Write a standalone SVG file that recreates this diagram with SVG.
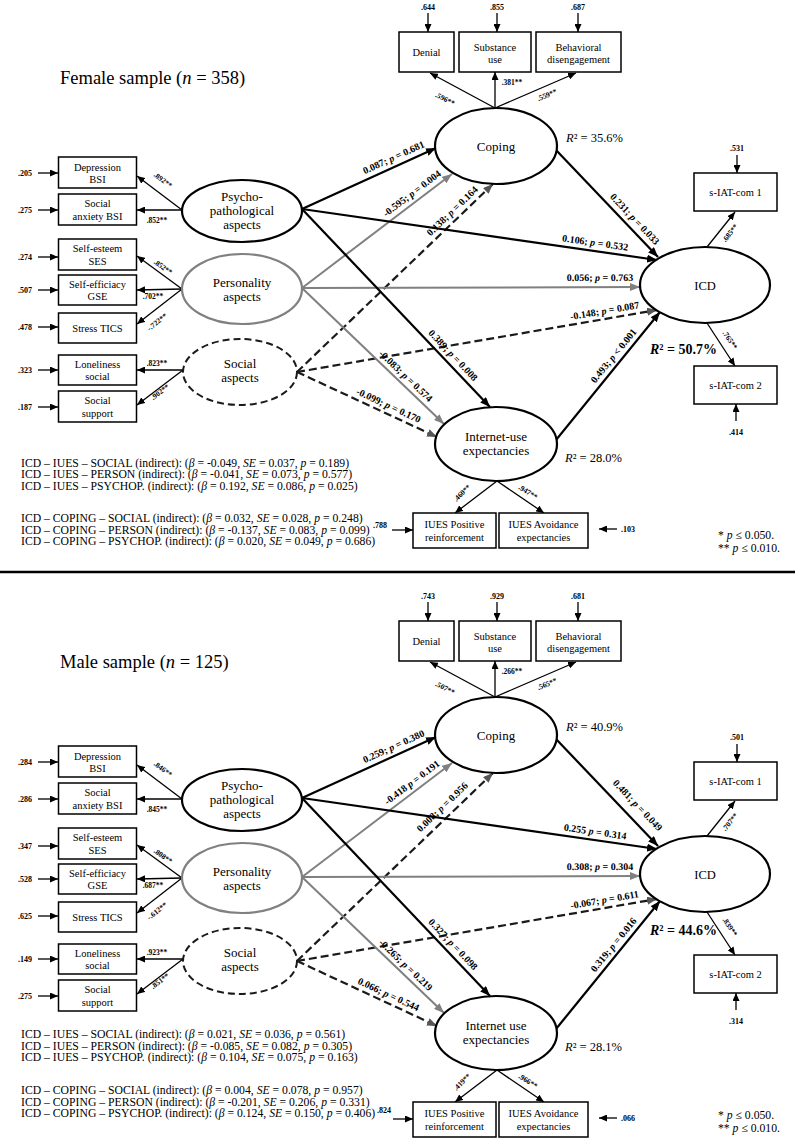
<svg xmlns="http://www.w3.org/2000/svg" width="795" height="1140" viewBox="0 0 795 1140">
<defs>
<style>
text{font-family:"Liberation Serif","Times New Roman",serif;fill:#000}
.ttl{font-size:18.5px}
.lat{font-size:13px;text-anchor:middle}
.bx{font-size:10.5px;text-anchor:middle}
.er{font-size:8px;font-weight:bold;text-anchor:middle}
.lo{font-size:7.5px;font-weight:bold;text-anchor:middle}
.pl{font-size:10px;font-weight:bold;text-anchor:middle}
.r2{font-size:12.5px}
.r2b{font-size:14px;font-weight:bold}
.ind{font-size:11.7px}
.fn{font-size:11.7px}
.i{font-style:italic}
.pb{stroke:#000;stroke-width:2.2;fill:none;marker-end:url(#ah)}
.pg{stroke:#808080;stroke-width:2;fill:none;marker-end:url(#ahg)}
.pd{stroke:#1a1a1a;stroke-width:2.2;fill:none;stroke-dasharray:8 4;marker-end:url(#ahd)}
.ld{stroke:#000;stroke-width:1.3;fill:none;marker-end:url(#as)}
.box{fill:#fff;stroke:#000;stroke-width:1.5}
.el{fill:#fff;stroke:#000;stroke-width:2.2}
.elg{fill:#fff;stroke:#808080;stroke-width:2.2}
.eld{fill:#fff;stroke:#1a1a1a;stroke-width:2;stroke-dasharray:7 4}
</style>
<marker id="ah" viewBox="0 0 10 8" refX="10" refY="4" markerWidth="10" markerHeight="8" markerUnits="userSpaceOnUse" orient="auto"><path d="M0,0L10,4L0,8z" fill="#000"/></marker>
<marker id="ahg" viewBox="0 0 10 8" refX="10" refY="4" markerWidth="10" markerHeight="8" markerUnits="userSpaceOnUse" orient="auto"><path d="M0,0L10,4L0,8z" fill="#808080"/></marker>
<marker id="ahd" viewBox="0 0 10 8" refX="10" refY="4" markerWidth="10" markerHeight="8" markerUnits="userSpaceOnUse" orient="auto"><path d="M0,0L10,4L0,8z" fill="#555"/></marker>
<marker id="as" viewBox="0 0 8 7" refX="8" refY="3.5" markerWidth="8" markerHeight="7" markerUnits="userSpaceOnUse" orient="auto"><path d="M0,0L8,3.5L0,7z" fill="#000"/></marker>
</defs>
<rect width="795" height="1140" fill="#fff"/>

<!-- ================= FEMALE ================= -->
<g id="female">
<text class="ttl" x="60" y="84">Female sample (<tspan class="i">n</tspan> = 358)</text>
<g id="f-connectors">
<line class="pb" x1="302" y1="209" x2="436" y2="148"/>
<line class="pg" x1="302" y1="288" x2="452" y2="174"/>
<line class="pd" x1="297" y1="372" x2="493" y2="184"/>
<line class="pb" x1="302" y1="209" x2="657" y2="260"/>
<line class="pg" x1="302" y1="288" x2="640" y2="287"/>
<line class="pd" x1="297" y1="372" x2="657" y2="310"/>
<line class="pb" x1="302" y1="209" x2="490" y2="407"/>
<line class="pg" x1="302" y1="288" x2="444" y2="424"/>
<line class="pd" x1="297" y1="372" x2="437" y2="437"/>
<line class="pb" x1="556" y1="150" x2="658" y2="257"/>
<line class="pb" x1="556" y1="440" x2="660" y2="312"/>
<line class="ld" x1="182" y1="210" x2="137" y2="176"/>
<line class="ld" x1="182" y1="210" x2="137" y2="210"/>
<line class="ld" x1="182" y1="289" x2="137" y2="256"/>
<line class="ld" x1="182" y1="289" x2="137" y2="290"/>
<line class="ld" x1="182" y1="289" x2="137" y2="324"/>
<line class="ld" x1="183" y1="370" x2="137" y2="370"/>
<line class="ld" x1="183" y1="370" x2="137" y2="405"/>
<line class="ld" x1="495" y1="108" x2="430" y2="73"/>
<line class="ld" x1="495" y1="108" x2="495" y2="72"/>
<line class="ld" x1="495" y1="108" x2="576" y2="73"/>
<line class="ld" x1="707" y1="247" x2="735" y2="212"/>
<line class="ld" x1="707" y1="323" x2="735" y2="366"/>
<line class="ld" x1="497" y1="481" x2="455" y2="513"/>
<line class="ld" x1="497" y1="481" x2="544" y2="513"/>
<line class="ld" x1="38" y1="173" x2="58" y2="173"/>
<line class="ld" x1="38" y1="210" x2="58" y2="210"/>
<line class="ld" x1="38" y1="257" x2="58" y2="257"/>
<line class="ld" x1="38" y1="290" x2="58" y2="290"/>
<line class="ld" x1="38" y1="327" x2="58" y2="327"/>
<line class="ld" x1="38" y1="370" x2="58" y2="370"/>
<line class="ld" x1="38" y1="407" x2="58" y2="407"/>
<line class="ld" x1="428" y1="13" x2="428" y2="32"/>
<line class="ld" x1="497" y1="13" x2="497" y2="32"/>
<line class="ld" x1="578" y1="13" x2="578" y2="32"/>
<line class="ld" x1="737" y1="155" x2="737" y2="173"/>
<line class="ld" x1="736" y1="421" x2="736" y2="404"/>
<line class="ld" x1="392" y1="530" x2="413" y2="530"/>
<line class="ld" x1="617" y1="529" x2="599" y2="529"/>
<g transform="translate(397,165) rotate(-24.5)"><text class="pl" y="-5">0.087; <tspan class="i">p</tspan> = 0.681</text></g>
<g transform="translate(417,200) rotate(-37.2)"><text class="pl" y="-5">-0.595; <tspan class="i">p</tspan> = 0.004</text></g>
<g transform="translate(458,217) rotate(-43.8)"><text class="pl" y="-5">0.138; <tspan class="i">p</tspan> = 0.164</text></g>
<g transform="translate(594,251) rotate(8.2)"><text class="pl" y="-5">0.106; <tspan class="i">p</tspan> = 0.532</text></g>
<g transform="translate(600,287) rotate(-0.2)"><text class="pl" y="-6">0.056; <tspan class="i">p</tspan> = 0.763</text></g>
<g transform="translate(606,319) rotate(-9.8)"><text class="pl" y="-5">-0.148; <tspan class="i">p</tspan> = 0.087</text></g>
<g transform="translate(447,361) rotate(46.5)"><text class="pl" y="-5">0.389; <tspan class="i">p</tspan> = 0.008</text></g>
<g transform="translate(400,382) rotate(43.6)"><text class="pl" y="-5">-0.083; <tspan class="i">p</tspan> = 0.574</text></g>
<g transform="translate(385,413) rotate(24.9)"><text class="pl" y="-5">-0.099; <tspan class="i">p</tspan> = 0.170</text></g>
<g transform="translate(628,225.5) rotate(46.4)"><text class="pl" y="-6">0.231; <tspan class="i">p</tspan> = 0.033</text></g>
<g transform="translate(620,361) rotate(-50.9)"><text class="pl" y="-5">0.493; <tspan class="i">p</tspan> &lt; 0.001</text></g>
<text class="lo" transform="translate(163,180) rotate(37)" y="2.5">.892**</text>
<text class="lo" x="157" y="222.5">.852**</text>
<text class="lo" transform="translate(163,267) rotate(35.4)" y="2.5">.852**</text>
<text class="lo" x="153" y="298.5">.702**</text>
<text class="lo" transform="translate(157,322) rotate(-38.7)" y="2.5">-.722**</text>
<text class="lo" x="157" y="365.5">.823**</text>
<text class="lo" transform="translate(160,392) rotate(-37.3)" y="2.5">.902**</text>
<text class="lo" transform="translate(445,99) rotate(27.6)" y="2.5">.596**</text>
<text class="lo" x="512" y="84.5">.381**</text>
<text class="lo" transform="translate(547,95) rotate(-22.8)" y="2.5">.559**</text>
<text class="lo" transform="translate(730,233) rotate(-51)" y="2.5">.685**</text>
<text class="lo" transform="translate(730,340) rotate(57)" y="2.5">.765**</text>
<text class="lo" transform="translate(462,493) rotate(-45)" y="2.5">.460**</text>
<text class="lo" transform="translate(528,492) rotate(33)" y="2.5">.947**</text>
<text class="er" x="25" y="176">.205</text>
<text class="er" x="25" y="213">.275</text>
<text class="er" x="25" y="260">.274</text>
<text class="er" x="25" y="293">.507</text>
<text class="er" x="25" y="330">.478</text>
<text class="er" x="25" y="373">.323</text>
<text class="er" x="25" y="410">.187</text>
<text class="er" x="428" y="10">.644</text>
<text class="er" x="497" y="10">.855</text>
<text class="er" x="578" y="10">.687</text>
<text class="er" x="737" y="151">.531</text>
<text class="er" x="736" y="435">.414</text>
<text class="er" x="380" y="528">.788</text>
<text class="er" x="628" y="532">.103</text>
</g>
<g id="f-psycho"><ellipse class="el" cx="242" cy="211" rx="60" ry="31"/><text class="lat" x="242" y="201">Psycho-</text><text class="lat" x="242" y="215">pathological</text><text class="lat" x="242" y="229">aspects</text></g>
<g id="f-person"><ellipse class="elg" cx="242" cy="289" rx="60" ry="35"/><text class="lat" x="242" y="287">Personality</text><text class="lat" x="242" y="301">aspects</text></g>
<g id="f-social"><ellipse class="eld" cx="240" cy="372" rx="57" ry="33"/><text class="lat" x="240" y="368">Social</text><text class="lat" x="240" y="382">aspects</text></g>
<g id="f-coping"><ellipse class="el" cx="496" cy="146" rx="61" ry="38"/><text class="lat" x="496" y="151">Coping</text></g>
<g id="f-icd"><ellipse class="el" cx="705" cy="285" rx="65" ry="38"/><text class="lat" x="705" y="290" style="font-size:12.5px">ICD</text></g>
<g id="f-iues"><ellipse class="el" cx="496" cy="444" rx="61" ry="37"/><text class="lat" x="496" y="441">Internet-use</text><text class="lat" x="496" y="455">expectancies</text></g>
<g id="f-dep"><rect class="box" x="58.5" y="157" width="78" height="31"/><text class="bx" x="97.5" y="171">Depression</text><text class="bx" x="97.5" y="183">BSI</text></g>
<g id="f-sa"><rect class="box" x="58.5" y="194" width="78" height="31"/><text class="bx" x="97.5" y="207">Social</text><text class="bx" x="97.5" y="220">anxiety BSI</text></g>
<g id="f-ses"><rect class="box" x="58.5" y="239" width="78" height="31"/><text class="bx" x="97.5" y="252">Self-esteem</text><text class="bx" x="97.5" y="265">SES</text></g>
<g id="f-gse"><rect class="box" x="58.5" y="275" width="78" height="30"/><text class="bx" x="97.5" y="288">Self-efficiacy</text><text class="bx" x="97.5" y="300">GSE</text></g>
<g id="f-tics"><rect class="box" x="58.5" y="313" width="78" height="30"/><text class="bx" x="97.5" y="332">Stress TICS</text></g>
<g id="f-lon"><rect class="box" x="58.5" y="355" width="78" height="30"/><text class="bx" x="97.5" y="368">Loneliness</text><text class="bx" x="97.5" y="380">social</text></g>
<g id="f-sup"><rect class="box" x="58.5" y="391" width="78" height="31"/><text class="bx" x="97.5" y="404">Social</text><text class="bx" x="97.5" y="417">support</text></g>
<g id="f-denial"><rect class="box" x="399" y="32" width="55" height="40"/><text class="bx" x="426.5" y="56">Denial</text></g>
<g id="f-subst"><rect class="box" x="459" y="32" width="72" height="40"/><text class="bx" x="495" y="51">Substance</text><text class="bx" x="495" y="63">use</text></g>
<g id="f-behav"><rect class="box" x="536" y="32" width="85" height="40"/><text class="bx" x="578.5" y="51">Behavioral</text><text class="bx" x="578.5" y="63">disengagement</text></g>
<g id="f-iat1"><rect class="box" x="694" y="173" width="83" height="38"/><text class="bx" x="735.5" y="196">s-IAT-com 1</text></g>
<g id="f-iat2"><rect class="box" x="694" y="366" width="83" height="38"/><text class="bx" x="735.5" y="389">s-IAT-com 2</text></g>
<g id="f-pos"><rect class="box" x="413" y="513" width="83" height="35"/><text class="bx" x="454.5" y="528">IUES Positive</text><text class="bx" x="454.5" y="541">reinforcement</text></g>
<g id="f-avo"><rect class="box" x="499" y="513" width="89" height="35"/><text class="bx" x="543.5" y="528">IUES Avoidance</text><text class="bx" x="543.5" y="541">expectancies</text></g>
<text class="r2" x="566" y="142"><tspan class="i">R</tspan>² = 35.6%</text>
<text class="r2b" x="650" y="354"><tspan class="i">R</tspan>² = 50.7%</text>
<text class="r2" x="565" y="462"><tspan class="i">R</tspan>² = 28.0%</text>
<g id="f-indirect">
<text class="ind" x="21" y="466.5">ICD – IUES – SOCIAL (indirect): (<tspan class="i">β</tspan> = -0.049, <tspan class="i">SE</tspan> = 0.037, <tspan class="i">p</tspan> = 0.189)</text>
<text class="ind" x="21" y="478">ICD – IUES – PERSON (indirect): (<tspan class="i">β</tspan> = -0.041, <tspan class="i">SE</tspan> = 0.073, <tspan class="i">p</tspan> = 0.577)</text>
<text class="ind" x="21" y="489.5">ICD – IUES – PSYCHOP. (indirect): (<tspan class="i">β</tspan> = 0.192, <tspan class="i">SE</tspan> = 0.086, <tspan class="i">p</tspan> = 0.025)</text>
<text class="ind" x="21" y="522">ICD – COPING – SOCIAL (indirect): (<tspan class="i">β</tspan> = 0.032, <tspan class="i">SE</tspan> = 0.028, <tspan class="i">p</tspan> = 0.248)</text>
<text class="ind" x="21" y="533.5">ICD – COPING – PERSON (indirect): (<tspan class="i">β</tspan> = -0.137, <tspan class="i">SE</tspan> = 0.083, <tspan class="i">p</tspan> = 0.099)</text>
<text class="ind" x="21" y="545">ICD – COPING – PSYCHOP. (indirect): (<tspan class="i">β</tspan> = 0.020, <tspan class="i">SE</tspan> = 0.049, <tspan class="i">p</tspan> = 0.686)</text>
</g>
<text class="fn" x="718" y="539">* <tspan class="i">p</tspan> ≤ 0.050.</text>
<text class="fn" x="718" y="551.5">** <tspan class="i">p</tspan> ≤ 0.010.</text>
</g>

<line x1="0" y1="572" x2="795" y2="572" stroke="#000" stroke-width="2.5"/>

<!-- ================= MALE ================= -->
<g id="male">
<text class="ttl" x="60" y="668">Male sample (<tspan class="i">n</tspan> = 125)</text>
<g transform="translate(0,589)">
<g id="m-connectors">
<line class="pb" x1="302" y1="209" x2="436" y2="148"/>
<line class="pg" x1="302" y1="288" x2="452" y2="174"/>
<line class="pd" x1="297" y1="372" x2="493" y2="184"/>
<line class="pb" x1="302" y1="209" x2="657" y2="260"/>
<line class="pg" x1="302" y1="288" x2="640" y2="287"/>
<line class="pd" x1="297" y1="372" x2="657" y2="310"/>
<line class="pb" x1="302" y1="209" x2="490" y2="407"/>
<line class="pg" x1="302" y1="288" x2="444" y2="424"/>
<line class="pd" x1="297" y1="372" x2="437" y2="437"/>
<line class="pb" x1="556" y1="150" x2="658" y2="257"/>
<line class="pb" x1="556" y1="440" x2="660" y2="312"/>
<line class="ld" x1="182" y1="210" x2="137" y2="176"/>
<line class="ld" x1="182" y1="210" x2="137" y2="210"/>
<line class="ld" x1="182" y1="289" x2="137" y2="256"/>
<line class="ld" x1="182" y1="289" x2="137" y2="290"/>
<line class="ld" x1="182" y1="289" x2="137" y2="324"/>
<line class="ld" x1="183" y1="370" x2="137" y2="370"/>
<line class="ld" x1="183" y1="370" x2="137" y2="405"/>
<line class="ld" x1="495" y1="108" x2="430" y2="73"/>
<line class="ld" x1="495" y1="108" x2="495" y2="72"/>
<line class="ld" x1="495" y1="108" x2="576" y2="73"/>
<line class="ld" x1="707" y1="247" x2="735" y2="212"/>
<line class="ld" x1="707" y1="323" x2="735" y2="366"/>
<line class="ld" x1="497" y1="481" x2="455" y2="513"/>
<line class="ld" x1="497" y1="481" x2="544" y2="513"/>
<line class="ld" x1="38" y1="173" x2="58" y2="173"/>
<line class="ld" x1="38" y1="210" x2="58" y2="210"/>
<line class="ld" x1="38" y1="257" x2="58" y2="257"/>
<line class="ld" x1="38" y1="290" x2="58" y2="290"/>
<line class="ld" x1="38" y1="327" x2="58" y2="327"/>
<line class="ld" x1="38" y1="370" x2="58" y2="370"/>
<line class="ld" x1="38" y1="407" x2="58" y2="407"/>
<line class="ld" x1="428" y1="13" x2="428" y2="32"/>
<line class="ld" x1="497" y1="13" x2="497" y2="32"/>
<line class="ld" x1="578" y1="13" x2="578" y2="32"/>
<line class="ld" x1="737" y1="155" x2="737" y2="173"/>
<line class="ld" x1="736" y1="421" x2="736" y2="404"/>
<line class="ld" x1="393" y1="530" x2="413" y2="530"/>
<line class="ld" x1="617" y1="529" x2="599" y2="529"/>
<g transform="translate(397,165) rotate(-24.5)"><text class="pl" y="-5">0.259; <tspan class="i">p</tspan> = 0.380</text></g>
<g transform="translate(417,200) rotate(-37.2)"><text class="pl" y="-5">-0.418 <tspan class="i">p</tspan> = 0.191</text></g>
<g transform="translate(448,224) rotate(-43.8)"><text class="pl" y="-5">0.008; <tspan class="i">p</tspan> = 0.956</text></g>
<g transform="translate(594,251) rotate(8.2)"><text class="pl" y="-5">0.255 <tspan class="i">p</tspan> = 0.314</text></g>
<g transform="translate(600,287) rotate(-0.2)"><text class="pl" y="-6">0.308; <tspan class="i">p</tspan> = 0.304</text></g>
<g transform="translate(606,319) rotate(-9.8)"><text class="pl" y="-5">-0.067; <tspan class="i">p</tspan> = 0.611</text></g>
<g transform="translate(447,361) rotate(46.5)"><text class="pl" y="-5">0.327; <tspan class="i">p</tspan> = 0.098</text></g>
<g transform="translate(400,382) rotate(43.6)"><text class="pl" y="-5">-0.265; <tspan class="i">p</tspan> = 0.219</text></g>
<g transform="translate(385,413) rotate(24.9)"><text class="pl" y="-5">0.066; <tspan class="i">p</tspan> = 0.544</text></g>
<g transform="translate(628,225.5) rotate(46.4)"><text class="pl" y="-10">0.481; <tspan class="i">p</tspan> = 0.049</text></g>
<g transform="translate(620,361) rotate(-50.9)"><text class="pl" y="-5">0.319; <tspan class="i">p</tspan> = 0.016</text></g>
<text class="lo" transform="translate(163,180) rotate(37)" y="2.5">.846**</text>
<text class="lo" x="157" y="222.5">.845**</text>
<text class="lo" transform="translate(163,267) rotate(35.4)" y="2.5">.808**</text>
<text class="lo" x="153" y="298.5">.687**</text>
<text class="lo" transform="translate(157,322) rotate(-38.7)" y="2.5">-.612**</text>
<text class="lo" x="157" y="365.5">.923**</text>
<text class="lo" transform="translate(160,392) rotate(-37.3)" y="2.5">.851**</text>
<text class="lo" transform="translate(445,99) rotate(27.6)" y="2.5">.507**</text>
<text class="lo" x="512" y="84.5">.266**</text>
<text class="lo" transform="translate(547,95) rotate(-22.8)" y="2.5">.565**</text>
<text class="lo" transform="translate(730,233) rotate(-51)" y="2.5">.707**</text>
<text class="lo" transform="translate(730,338) rotate(57)" y="2.5">.839**</text>
<text class="lo" transform="translate(462,493) rotate(-45)" y="2.5">.419**</text>
<text class="lo" transform="translate(528,492) rotate(33)" y="2.5">.966**</text>
<text class="er" x="25" y="176">.284</text>
<text class="er" x="25" y="213">.286</text>
<text class="er" x="25" y="260">.347</text>
<text class="er" x="25" y="293">.528</text>
<text class="er" x="25" y="330">.625</text>
<text class="er" x="25" y="373">.149</text>
<text class="er" x="25" y="410">.275</text>
<text class="er" x="428" y="10">.743</text>
<text class="er" x="497" y="10">.929</text>
<text class="er" x="578" y="10">.681</text>
<text class="er" x="737" y="151">.501</text>
<text class="er" x="736" y="435">.314</text>
<text class="er" x="384" y="524">.824</text>
<text class="er" x="628" y="532">.066</text>
</g>
<g id="m-psycho"><ellipse class="el" cx="242" cy="211" rx="60" ry="31"/><text class="lat" x="242" y="201">Psycho-</text><text class="lat" x="242" y="215">pathological</text><text class="lat" x="242" y="229">aspects</text></g>
<g id="m-person"><ellipse class="elg" cx="242" cy="289" rx="60" ry="35"/><text class="lat" x="242" y="287">Personality</text><text class="lat" x="242" y="301">aspects</text></g>
<g id="m-social"><ellipse class="eld" cx="240" cy="372" rx="57" ry="33"/><text class="lat" x="240" y="368">Social</text><text class="lat" x="240" y="382">aspects</text></g>
<g id="m-coping"><ellipse class="el" cx="496" cy="146" rx="61" ry="38"/><text class="lat" x="496" y="151">Coping</text></g>
<g id="m-icd"><ellipse class="el" cx="705" cy="285" rx="65" ry="38"/><text class="lat" x="705" y="290" style="font-size:12.5px">ICD</text></g>
<g id="m-iues"><ellipse class="el" cx="496" cy="444" rx="61" ry="37"/><text class="lat" x="496" y="441">Internet use</text><text class="lat" x="496" y="455">expectancies</text></g>
<g id="m-dep"><rect class="box" x="58.5" y="157" width="78" height="31"/><text class="bx" x="97.5" y="171">Depression</text><text class="bx" x="97.5" y="183">BSI</text></g>
<g id="m-sa"><rect class="box" x="58.5" y="194" width="78" height="31"/><text class="bx" x="97.5" y="207">Social</text><text class="bx" x="97.5" y="220">anxiety BSI</text></g>
<g id="m-ses"><rect class="box" x="58.5" y="239" width="78" height="31"/><text class="bx" x="97.5" y="252">Self-esteem</text><text class="bx" x="97.5" y="265">SES</text></g>
<g id="m-gse"><rect class="box" x="58.5" y="275" width="78" height="30"/><text class="bx" x="97.5" y="288">Self-efficiacy</text><text class="bx" x="97.5" y="300">GSE</text></g>
<g id="m-tics"><rect class="box" x="58.5" y="313" width="78" height="30"/><text class="bx" x="97.5" y="332">Stress TICS</text></g>
<g id="m-lon"><rect class="box" x="58.5" y="355" width="78" height="30"/><text class="bx" x="97.5" y="368">Loneliness</text><text class="bx" x="97.5" y="380">social</text></g>
<g id="m-sup"><rect class="box" x="58.5" y="391" width="78" height="31"/><text class="bx" x="97.5" y="404">Social</text><text class="bx" x="97.5" y="417">support</text></g>
<g id="m-denial"><rect class="box" x="399" y="32" width="55" height="40"/><text class="bx" x="426.5" y="56">Denial</text></g>
<g id="m-subst"><rect class="box" x="459" y="32" width="72" height="40"/><text class="bx" x="495" y="51">Substance</text><text class="bx" x="495" y="63">use</text></g>
<g id="m-behav"><rect class="box" x="536" y="32" width="85" height="40"/><text class="bx" x="578.5" y="51">Behavioral</text><text class="bx" x="578.5" y="63">disengagement</text></g>
<g id="m-iat1"><rect class="box" x="694" y="173" width="83" height="38"/><text class="bx" x="735.5" y="196">s-IAT-com 1</text></g>
<g id="m-iat2"><rect class="box" x="694" y="366" width="83" height="38"/><text class="bx" x="735.5" y="389">s-IAT-com 2</text></g>
<g id="m-pos"><rect class="box" x="413" y="513" width="83" height="35"/><text class="bx" x="454.5" y="528">IUES Positive</text><text class="bx" x="454.5" y="541">reinforcement</text></g>
<g id="m-avo"><rect class="box" x="499" y="513" width="89" height="35"/><text class="bx" x="543.5" y="528">IUES Avoidance</text><text class="bx" x="543.5" y="541">expectancies</text></g>
<text class="r2" x="566" y="142"><tspan class="i">R</tspan>² = 40.9%</text>
<text class="r2b" x="650" y="346"><tspan class="i">R</tspan>² = 44.6%</text>
<text class="r2" x="565" y="462"><tspan class="i">R</tspan>² = 28.1%</text>
</g>
<g id="m-indirect">
<text class="ind" x="21" y="1038">ICD – IUES – SOCIAL (indirect): (<tspan class="i">β</tspan> = 0.021, <tspan class="i">SE</tspan> = 0.036, <tspan class="i">p</tspan> = 0.561)</text>
<text class="ind" x="21" y="1049.5">ICD – IUES – PERSON (indirect): (<tspan class="i">β</tspan> = -0.085, <tspan class="i">SE</tspan> = 0.082, <tspan class="i">p</tspan> = 0.305)</text>
<text class="ind" x="21" y="1061">ICD – IUES – PSYCHOP. (indirect): (<tspan class="i">β</tspan> = 0.104, <tspan class="i">SE</tspan> = 0.075, <tspan class="i">p</tspan> = 0.163)</text>
<text class="ind" x="21" y="1094">ICD – COPING – SOCIAL (indirect): (<tspan class="i">β</tspan> = 0.004, <tspan class="i">SE</tspan> = 0.078, <tspan class="i">p</tspan> = 0.957)</text>
<text class="ind" x="21" y="1105.5">ICD – COPING – PERSON (indirect): (<tspan class="i">β</tspan> = -0.201, <tspan class="i">SE</tspan> = 0.206, <tspan class="i">p</tspan> = 0.331)</text>
<text class="ind" x="21" y="1117">ICD – COPING – PSYCHOP. (indirect): (<tspan class="i">β</tspan> = 0.124, <tspan class="i">SE</tspan> = 0.150, <tspan class="i">p</tspan> = 0.406)</text>
</g>
<text class="fn" x="718" y="1119">* <tspan class="i">p</tspan> ≤ 0.050.</text>
<text class="fn" x="718" y="1131.5">** <tspan class="i">p</tspan> ≤ 0.010.</text>
</g>
</svg>
